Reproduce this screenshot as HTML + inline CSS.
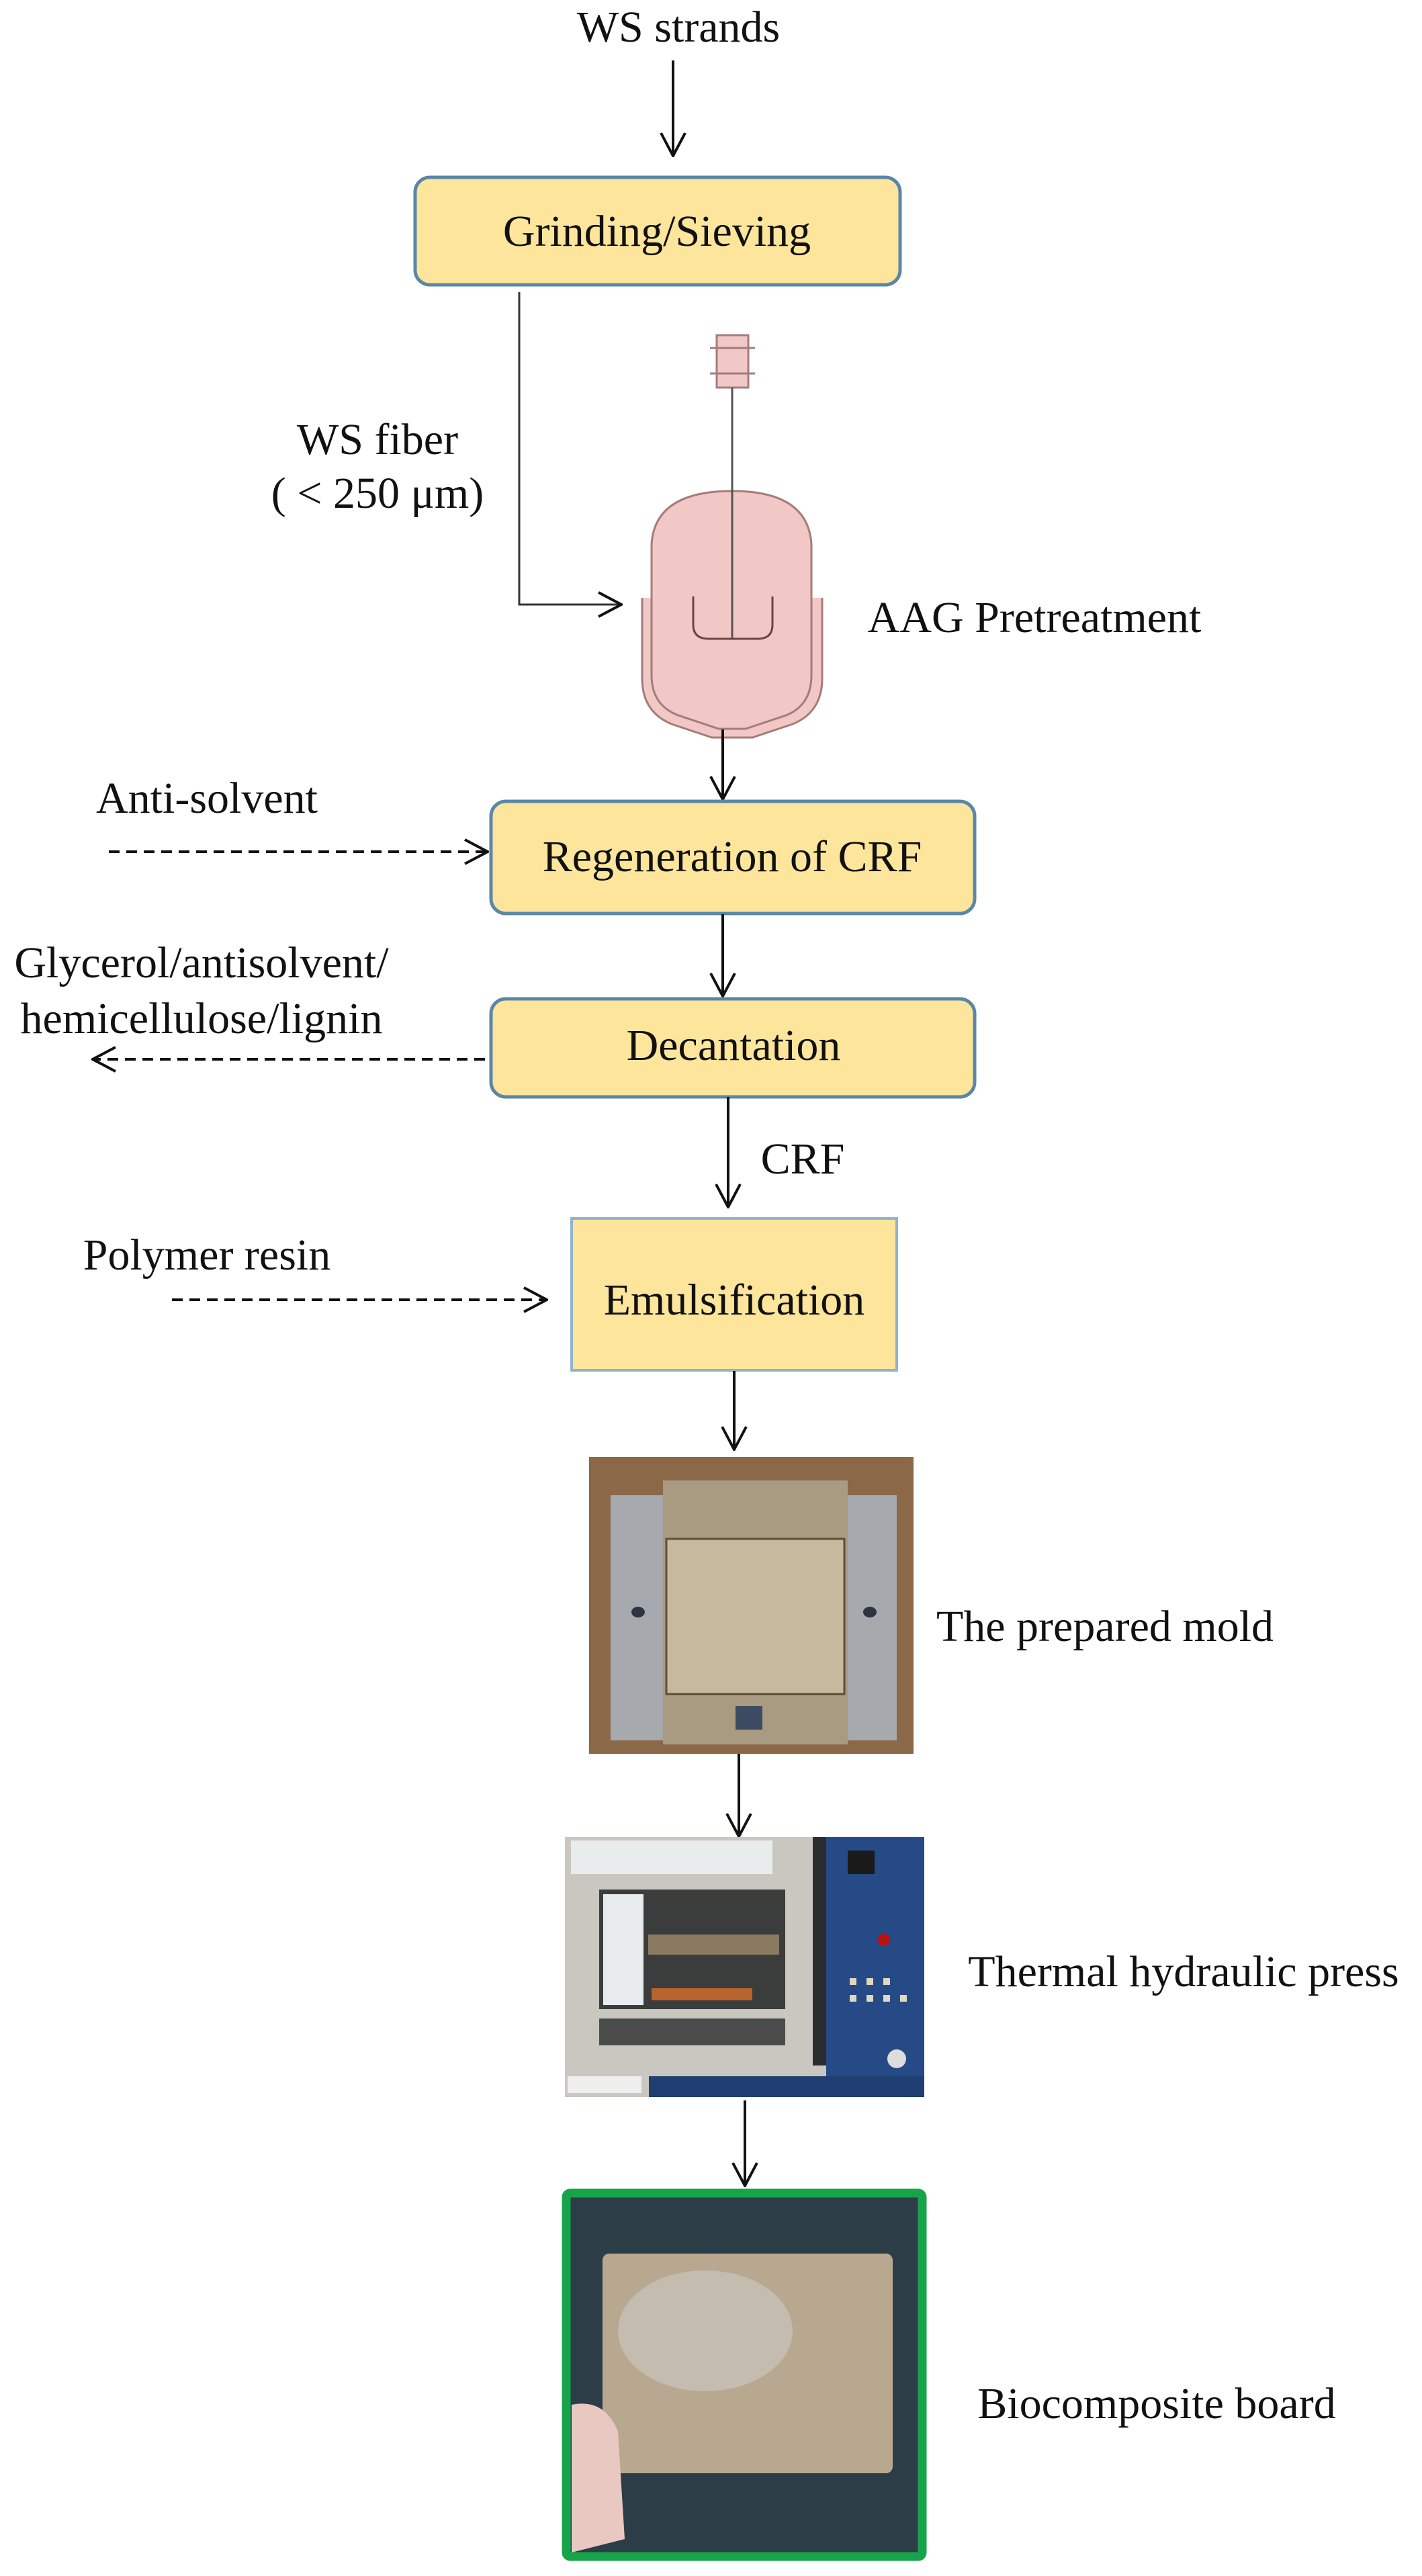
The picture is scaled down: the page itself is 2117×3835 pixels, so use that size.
<!DOCTYPE html>
<html><head><meta charset="utf-8"><style>
html,body{margin:0;padding:0;background:#fff}
svg{display:block}
svg text{font-family:"Liberation Serif","DejaVu Serif",serif;fill:#111}
</style></head><body>
<svg width="2117" height="3835" viewBox="0 0 2117 3835" xmlns="http://www.w3.org/2000/svg" font-family="Liberation Serif, DejaVu Serif, serif">
<defs>
<marker id="ah2" viewBox="0 0 40 40" refX="38" refY="20" markerWidth="40" markerHeight="40" markerUnits="userSpaceOnUse" orient="auto">
<path d="M4,2 L38,20 L4,38" fill="none" stroke="#111" stroke-width="4"/></marker>
</defs>
<g font-size="66" text-anchor="middle" font-family="Liberation Serif, DejaVu Serif, serif">
<text x="1010" y="62">WS strands</text>
<line x1="1002" y1="90" x2="1002" y2="232" stroke="#111" stroke-width="4" marker-end="url(#ah2)"/>
<rect x="618" y="264" width="722" height="160" rx="22" fill="#fde59c" stroke="#5a87a6" stroke-width="5"/>
<text x="978" y="366">Grinding/Sieving</text>
<polyline points="773,435 773,900 925,900" fill="none" stroke="#333" stroke-width="3" marker-end="url(#ah2)"/>
<text x="562" y="676">WS fiber</text>
<text x="562" y="756">( &lt; 250 μm)</text>
<rect x="1067" y="499" width="47" height="78" fill="#f2c8c6" stroke="#a57c7a" stroke-width="3"/>
<line x1="1057" y1="518" x2="1124" y2="518" stroke="#a57c7a" stroke-width="3"/>
<line x1="1057" y1="556" x2="1124" y2="556" stroke="#a57c7a" stroke-width="3"/>
<path d="M956,890 L956,1010 Q956,1060 1000,1078 L1060,1098 L1120,1098 L1180,1078 Q1224,1060 1224,1010 L1224,890" fill="#f2c8c6" stroke="#a57c7a" stroke-width="3"/>
<path d="M970,810 Q975,731 1090,731 Q1203,731 1208,810 L1208,1005 Q1208,1050 1170,1065 L1110,1085 L1070,1085 L1010,1065 Q970,1050 970,1005 Z" fill="#f2c8c6" stroke="#a57c7a" stroke-width="3"/>
<line x1="1090" y1="577" x2="1090" y2="951" stroke="#555" stroke-width="3"/>
<path d="M1032,888 L1032,930 Q1032,951 1055,951 L1128,951 Q1150,951 1150,930 L1150,888" fill="none" stroke="#6b4444" stroke-width="3"/>
<text x="1540" y="941">AAG Pretreatment</text>
<line x1="1076" y1="1086" x2="1076" y2="1190" stroke="#111" stroke-width="4" marker-end="url(#ah2)"/>
<text x="308" y="1210">Anti-solvent</text>
<line x1="162" y1="1268" x2="726" y2="1268" stroke="#111" stroke-width="4" stroke-dasharray="16,10" marker-end="url(#ah2)"/>
<rect x="731" y="1193" width="720" height="167" rx="22" fill="#fde59c" stroke="#5a87a6" stroke-width="5"/>
<text x="1090" y="1297">Regeneration of CRF</text>
<line x1="1076" y1="1361" x2="1076" y2="1483" stroke="#111" stroke-width="4" marker-end="url(#ah2)"/>
<text x="300" y="1455">Glycerol/antisolvent/</text>
<text x="300" y="1538">hemicellulose/lignin</text>
<rect x="731" y="1487" width="720" height="146" rx="22" fill="#fde59c" stroke="#5a87a6" stroke-width="5"/>
<text x="1092" y="1578">Decantation</text>
<line x1="722" y1="1577" x2="138" y2="1577" stroke="#111" stroke-width="4" stroke-dasharray="16,10" marker-end="url(#ah2)"/>
<line x1="1084" y1="1633" x2="1084" y2="1797" stroke="#111" stroke-width="4" marker-end="url(#ah2)"/>
<text x="1195" y="1747">CRF</text>
<text x="308" y="1890">Polymer resin</text>
<line x1="256" y1="1935" x2="814" y2="1935" stroke="#111" stroke-width="4" stroke-dasharray="16,10" marker-end="url(#ah2)"/>
<rect x="851" y="1814" width="484" height="226" fill="#fde59c" stroke="#8fb4cc" stroke-width="4"/>
<text x="1093" y="1957">Emulsification</text>
<line x1="1093" y1="2041" x2="1093" y2="2158" stroke="#111" stroke-width="4" marker-end="url(#ah2)"/>
<rect x="877" y="2169" width="483" height="442" fill="#8a6848"/>
<rect x="987" y="2204" width="275" height="393" fill="#a99a82"/>
<rect x="992" y="2291" width="265" height="231" fill="#c7b99e" stroke="#5d4e3c" stroke-width="3"/>
<rect x="909" y="2226" width="78" height="365" fill="#a6a9ad"/>
<rect x="1262" y="2226" width="73" height="365" fill="#a6a9ad"/>
<ellipse cx="950" cy="2400" rx="10" ry="8" fill="#2d3340"/>
<ellipse cx="1295" cy="2400" rx="10" ry="8" fill="#2d3340"/>
<rect x="1095" y="2540" width="40" height="35" fill="#3d4b62"/>
<text x="1645" y="2443">The prepared mold</text>
<line x1="1100" y1="2611" x2="1100" y2="2734" stroke="#111" stroke-width="4" marker-end="url(#ah2)"/>
<rect x="841" y="2735" width="535" height="387" fill="#c9c7c0"/>
<rect x="850" y="2740" width="300" height="50" fill="#e8ecec"/>
<rect x="892" y="2813" width="277" height="178" fill="#3a3d3c"/>
<rect x="898" y="2820" width="60" height="165" fill="#e8ecee"/>
<rect x="965" y="2880" width="195" height="30" fill="#8a7a62"/>
<rect x="970" y="2960" width="150" height="18" fill="#b8642c"/>
<rect x="892" y="3005" width="277" height="40" fill="#4a4c4c"/>
<rect x="1210" y="2735" width="20" height="340" fill="#2a2c30"/>
<rect x="1230" y="2735" width="146" height="387" fill="#254a86"/>
<rect x="966" y="3091" width="410" height="31" fill="#1f3f72"/>
<rect x="845" y="3091" width="110" height="25" fill="#eee"/>
<rect x="1262" y="2755" width="40" height="35" fill="#1a1a1a"/>
<circle cx="1316" cy="2888" r="9" fill="#b11"/>
<circle cx="1335" cy="3065" r="14" fill="#ddd"/>
<g fill="#e0d8c0"><rect x="1265" y="2945" width="10" height="10"/><rect x="1290" y="2945" width="10" height="10"/><rect x="1315" y="2945" width="10" height="10"/><rect x="1265" y="2970" width="10" height="10"/><rect x="1290" y="2970" width="10" height="10"/><rect x="1315" y="2970" width="10" height="10"/><rect x="1340" y="2970" width="10" height="10"/></g>
<text x="1762" y="2957">Thermal hydraulic press</text>
<line x1="1109" y1="3127" x2="1109" y2="3254" stroke="#111" stroke-width="4" marker-end="url(#ah2)"/>
<rect x="843" y="3265" width="530" height="541" rx="6" fill="#2c3d47" stroke="#17a34a" stroke-width="13"/>
<rect x="897" y="3355" width="432" height="327" rx="10" fill="#b8a890"/>
<ellipse cx="1050" cy="3470" rx="130" ry="90" fill="#c8c4bc" opacity="0.7"/>
<path d="M851,3580 Q900,3570 920,3620 L930,3780 L851,3800 Z" fill="#e8c8c0"/>
<text x="1722" y="3600">Biocomposite board</text>
</g>
</svg>
</body></html>
